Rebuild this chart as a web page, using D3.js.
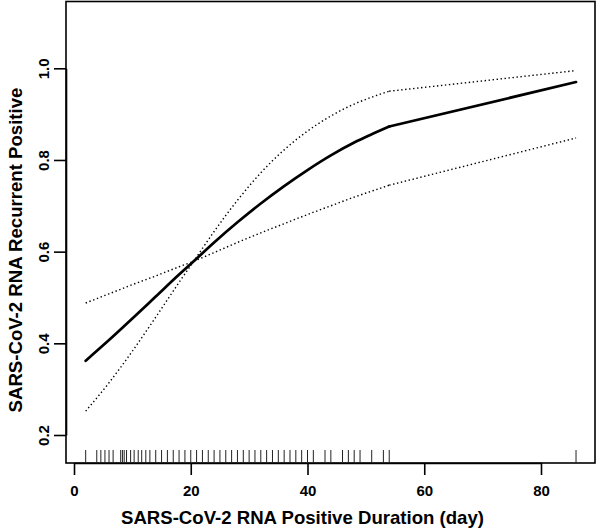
<!DOCTYPE html>
<html>
<head>
<meta charset="utf-8">
<script src="https://cdn.jsdelivr.net/npm/d3@7/dist/d3.min.js"></script>
<style>
  html, body { margin: 0; padding: 0; background: #fff; }
  svg { display: block; font-family: "Liberation Sans", Arial, Helvetica, sans-serif; }
</style>
</head>
<body>
<svg id="chart" width="597" height="529"></svg>
<script>
// ---- data ----
const xTicks = [0, 20, 40, 60, 80];
const yTicks = [0.2, 0.4, 0.6, 0.8, 1.0];
const yTickLabels = ["0.2", "0.4", "0.6", "0.8", "1.0"];

// evaluation days for the curves (kink at the last observed day before the gap)
const days    = [2, 6, 10, 14, 18, 20.5, 24, 28, 32, 36, 40, 44, 48, 51, 54, 86];
// fitted probability (solid line)
const fitted  = [0.362, 0.407, 0.454, 0.502, 0.550, 0.579, 0.620, 0.664, 0.705, 0.743, 0.778, 0.810, 0.838, 0.856, 0.873, 0.970];
// dotted bound that starts high on the left and ends low on the right
const boundA  = [0.488, 0.508, 0.528, 0.547, 0.567, 0.579, 0.598, 0.620, 0.641, 0.661, 0.681, 0.700, 0.719, 0.732, 0.745, 0.848];
// dotted bound that starts low on the left and ends high on the right
const boundB  = [0.252, 0.314, 0.383, 0.457, 0.533, 0.579, 0.644, 0.712, 0.772, 0.822, 0.863, 0.896, 0.922, 0.937, 0.950, 0.995];
const gapStart = 54;

// rug of observed durations (days)
const rugDays = [2, 3.9, 4.6, 5.3, 6.0, 6.7, 8.0, 8.3, 8.6, 9.0, 9.7, 10.3, 11.0, 11.6, 12.3, 13.0, 14,
  15, 16, 17, 18, 19, 20, 21, 22, 23, 24, 25, 26, 27, 28, 29, 30, 31, 32, 33, 34, 35, 36, 37, 38, 39, 40, 41,
  43, 44, 46, 47, 48, 49, 51, 53, 54, 86];

const xTitle = "SARS-CoV-2 RNA Positive Duration (day)";
const yTitle = "SARS-CoV-2 RNA Recurrent Positive";

// ---- layout ----
const svg = d3.select("#chart");
const box = { left: 66, right: 595, top: 1.5, bottom: 463 };

const x = d3.scaleLinear().domain([0, 80]).range([74, 541]);
const y = d3.scaleLinear().domain([0.2, 1.0]).range([435, 68.3]);

// plot box
svg.append("rect")
  .attr("x", box.left).attr("y", box.top)
  .attr("width", box.right - box.left).attr("height", box.bottom - box.top)
  .attr("fill", "none").attr("stroke", "#000").attr("stroke-width", 1.6);

// x axis
const gx = svg.append("g")
  .attr("transform", `translate(0,${box.bottom})`)
  .call(d3.axisBottom(x).tickValues(xTicks).tickFormat(d3.format("d"))
        .tickSize(12).tickSizeOuter(0).tickPadding(10));
gx.select(".domain").attr("stroke-width", 1.6);
gx.selectAll(".tick line").attr("stroke-width", 1.6);
gx.selectAll(".tick text")
  .attr("font-size", 15).attr("font-weight", "bold").attr("fill", "#000");

// y axis
const gy = svg.append("g")
  .attr("transform", `translate(${box.left},0)`)
  .call(d3.axisLeft(y).tickValues(yTicks).tickFormat((d, i) => yTickLabels[i])
        .tickSize(12).tickSizeOuter(0));
gy.select(".domain").attr("stroke-width", 1.6);
gy.selectAll(".tick line").attr("stroke-width", 1.6);
gy.selectAll(".tick text")
  .attr("font-size", 15).attr("font-weight", "bold").attr("fill", "#000")
  .attr("text-anchor", "middle")
  .attr("transform", "rotate(-90)")
  .attr("x", 0).attr("y", -17.5).attr("dy", null);

// rug
svg.append("g").selectAll("line").data(rugDays).join("line")
  .attr("x1", d => x(d)).attr("x2", d => x(d))
  .attr("y1", 450).attr("y2", box.bottom)
  .attr("stroke", "#222").attr("stroke-width", 1);

// curves: smooth over observed range, straight across the gap
function drawSeries(vals, style) {
  const pts = days.map((d, i) => [d, vals[i]]);
  const smooth = pts.filter(p => p[0] <= gapStart);
  const tail = pts.filter(p => p[0] >= gapStart);
  const smoothLine = d3.line().x(p => x(p[0])).y(p => y(p[1])).curve(d3.curveMonotoneX);
  const tailLine = d3.line().x(p => x(p[0])).y(p => y(p[1])).curve(d3.curveLinear);
  [smoothLine(smooth), tailLine(tail)].forEach(dpath => {
    const p = svg.append("path").attr("d", dpath).attr("fill", "none")
      .attr("stroke", "#000").attr("stroke-width", style.width)
      .attr("stroke-linejoin", "round");
    if (style.dash) p.attr("stroke-dasharray", style.dash).attr("stroke-linecap", "butt");
    else p.attr("stroke-linecap", "round");
  });
}
drawSeries(boundA, { width: 1.4, dash: "1.4,2.6" });
drawSeries(boundB, { width: 1.4, dash: "1.4,2.6" });
drawSeries(fitted, { width: 2.7 });

// titles
svg.append("text")
  .attr("x", 302.5).attr("y", 523.5)
  .attr("text-anchor", "middle")
  .attr("font-size", 18.6).attr("font-weight", "bold").attr("fill", "#000")
  .text(xTitle);

svg.append("text")
  .attr("transform", "translate(22,250) rotate(-90)")
  .attr("text-anchor", "middle")
  .attr("font-size", 18.6).attr("font-weight", "bold").attr("fill", "#000")
  .text(yTitle);
</script>
</body>
</html>
